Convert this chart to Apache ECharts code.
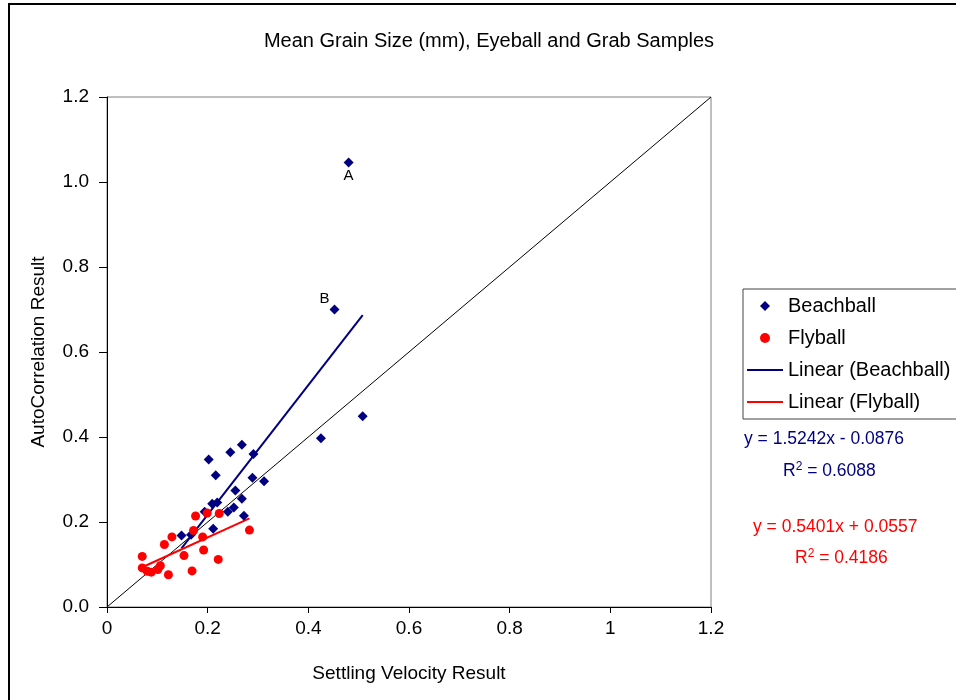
<!DOCTYPE html>
<html>
<head>
<meta charset="utf-8">
<script src="https://cdn.jsdelivr.net/npm/echarts@6/dist/echarts.min.js"></script>
<style>html,body{margin:0;padding:0;background:#fff}#c{width:956px;height:700px}</style>
</head>
<body>
<div id="c"></div>
<script>
// Beachball samples (Settling Velocity vs AutoCorrelation)
var beachX = [0.148,0.167,0.211,0.194,0.209,0.219,0.240,0.252,0.255,0.268,0.272,0.289,0.312,0.216,0.202,0.245,0.268,0.291,0.425,0.508,0.452,0.480];
var beachY = [0.168,0.170,0.184,0.224,0.243,0.246,0.224,0.234,0.274,0.255,0.215,0.304,0.296,0.310,0.347,0.364,0.382,0.360,0.397,0.449,0.700,1.046];
var beachTags = ['','','','','','','','','','','','','','','','','','','','','B','A'];
// Flyball samples
var flyX = [0.070,0.070,0.080,0.088,0.101,0.106,0.122,0.114,0.129,0.153,0.169,0.172,0.176,0.190,0.192,0.199,0.223,0.221,0.283];
var flyY = [0.119,0.092,0.084,0.082,0.088,0.097,0.076,0.147,0.165,0.121,0.085,0.180,0.214,0.165,0.134,0.221,0.220,0.112,0.181];
// Linear fits (slope, intercept, R^2)
var beachFit = {slope:1.5242, intercept:-0.0876, eq:'y = 1.5242x - 0.0876', r2:'0.6088'};
var flyFit = {slope:0.5401, intercept:0.0557, eq:'y = 0.5401x + 0.0557', r2:'0.4186'};
var axisMin = 0, axisMax = 1.2, axisStep = 0.2;

function fitLine(xs, f){
  var lo = Math.min.apply(null, xs), hi = Math.max.apply(null, xs);
  return [[lo, f.slope*lo+f.intercept],[hi, f.slope*hi+f.intercept]];
}
var beachData = beachX.map(function(x,i){
  var d = {value:[x, beachY[i]]};
  if (beachTags[i]==='A') d.label = {show:true, formatter:'A', position:'bottom', distance:1};
  if (beachTags[i]==='B') d.label = {show:true, formatter:'B', position:'left', offset:[2,-11], distance:2};
  return d;
});
var flyData = flyX.map(function(x,i){ return [x, flyY[i]]; });

var FONT = 'Liberation Sans, Arial, sans-serif';
var NAVY = '#000080', RED = '#ff0000';
var chart = echarts.init(document.getElementById('c'), null, {renderer:'canvas'});
chart.setOption({
  animation:false,
  backgroundColor:'#ffffff',
  textStyle:{fontFamily:FONT},
  title:{text:'Mean Grain Size (mm), Eyeball and Grab Samples', left:484, top:26, textAlign:'center',
    textStyle:{fontSize:20, fontWeight:'normal', color:'#000', fontFamily:FONT}},
  grid:{left:107, right:245, top:97, bottom:93, show:true, borderColor:'#808080', borderWidth:1, backgroundColor:'transparent'},
  legend:{
    orient:'vertical', left:743, top:289, padding:[7,40,7,4],
    borderColor:'#444', borderWidth:1, itemWidth:36, itemHeight:10, itemGap:12,
    symbolKeepAspect:true,
    textStyle:{fontSize:20, color:'#000', fontFamily:FONT, lineHeight:20},
    data:[
      {name:'Beachball', icon:'path://M5,0L10,5L5,10L0,5Z', itemStyle:{color:NAVY}},
      {name:'Flyball', icon:'circle', itemStyle:{color:RED}},
      {name:'Linear (Beachball)', icon:'path://M0,0L36,0L36,2L0,2Z', itemStyle:{color:NAVY}},
      {name:'Linear (Flyball)', icon:'path://M0,0L36,0L36,2L0,2Z', itemStyle:{color:RED}}
    ]
  },
  xAxis:{type:'value', min:axisMin, max:axisMax, interval:axisStep,
    name:'Settling Velocity Result', nameLocation:'middle', nameGap:57, nameMoveOverlap:false,
    nameTextStyle:{fontSize:19, color:'#000', fontFamily:FONT},
    axisLine:{show:true, onZero:false, lineStyle:{color:'#000', width:1}},
    axisTick:{show:true, length:6, lineStyle:{color:'#000'}},
    axisLabel:{fontSize:19, color:'#000', margin:12, fontFamily:FONT},
    splitLine:{show:false}},
  yAxis:{type:'value', min:axisMin, max:axisMax, interval:axisStep,
    name:'AutoCorrelation Result', nameLocation:'middle', nameGap:59, nameRotate:90, nameMoveOverlap:false,
    nameTextStyle:{fontSize:19, color:'#000', fontFamily:FONT},
    axisLine:{show:true, onZero:false, lineStyle:{color:'#000', width:1}},
    axisTick:{show:true, length:8, lineStyle:{color:'#000'}},
    axisLabel:{fontSize:19, color:'#000', margin:18, fontFamily:FONT, formatter:function(v){return v.toFixed(1);}},
    splitLine:{show:false}},
  graphic:[
    {type:'rect', shape:{x:9, y:4, width:1000, height:1000}, style:{fill:'none', stroke:'#000', lineWidth:2}, silent:true, z:-10},
    {type:'text', left:744, top:430, style:{text:beachFit.eq, fill:NAVY, font:'17.5px '+FONT}},
    {type:'text', left:783, top:461, style:{text:'R{s|2} = '+beachFit.r2, fill:NAVY, font:'17.5px '+FONT,
      rich:{s:{fontSize:12, verticalAlign:'top', padding:[0,0,8,0], fill:NAVY, fontFamily:FONT}}}},
    {type:'text', left:753, top:518, style:{text:flyFit.eq, fill:RED, font:'17.5px '+FONT}},
    {type:'text', left:795, top:548, style:{text:'R{s|2} = '+flyFit.r2, fill:RED, font:'17.5px '+FONT,
      rich:{s:{fontSize:12, verticalAlign:'top', padding:[0,0,8,0], fill:RED, fontFamily:FONT}}}}
  ],
  series:[
    {name:'diag', type:'line', data:[[axisMin,axisMin],[axisMax,axisMax]], symbol:'none', lineStyle:{color:'#000', width:1}, silent:true, z:1},
    {name:'Linear (Beachball)', type:'line', data:fitLine(beachX, beachFit), symbol:'none', itemStyle:{color:NAVY}, lineStyle:{color:NAVY, width:2}, z:3},
    {name:'Linear (Flyball)', type:'line', data:fitLine(flyX, flyFit), symbol:'none', itemStyle:{color:RED}, lineStyle:{color:RED, width:2}, z:3},
    {name:'Beachball', type:'scatter', data:beachData, symbol:'diamond', symbolSize:10, itemStyle:{color:NAVY, opacity:1},
      label:{show:false, color:'#000', fontSize:15, fontFamily:FONT}, z:4},
    {name:'Flyball', type:'scatter', data:flyData, symbol:'circle', symbolSize:9, itemStyle:{color:RED, opacity:1}, z:4}
  ]
});
</script>
</body>
</html>
